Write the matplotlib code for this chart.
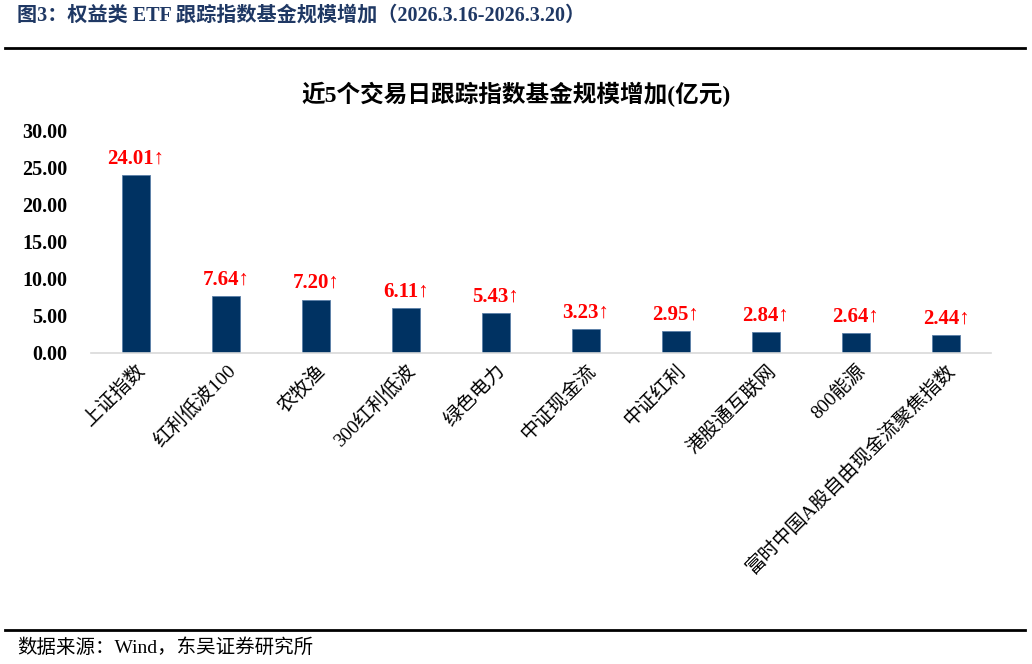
import numpy as np
import matplotlib
matplotlib.use('Agg')
import matplotlib.pyplot as plt

plt.rcParams['font.family'] = ['Liberation Serif', 'Noto Sans CJK SC']

# dados
categorias = ['上证指数', '红利低波100', '农牧渔', '300红利低波', '绿色电力',
              '中证现金流', '中证红利', '港股通互联网', '800能源',
              '富时中国A股自由现金流聚焦指数']
valores = [24.01, 7.64, 7.20, 6.11, 5.43, 3.23, 2.95, 2.84, 2.64, 2.44]
yticks = [0, 5, 10, 15, 20, 25, 30]

titulo = '图3：权益类 ETF 跟踪指数基金规模增加（2026.3.16-2026.3.20）'
titulo_graf = '近5个交易日跟踪指数基金规模增加(亿元)'
fonte = '数据来源：Wind，东吴证券研究所'

fig = plt.figure(figsize=(10.32, 6.64), dpi=100)
ax = fig.add_axes([91/1032, 1-353/664, 900/1032, 222/664*31/30])

x = np.arange(len(categorias))
ax.bar(x, valores, width=0.31, color='#003262', edgecolor='#5b7fa8', linewidth=0.6, zorder=2)

for xi, v in zip(x, valores):
	ax.text(xi, v + 0.9, '%.2f↑' % v, ha='center', va='bottom', color='#ff0000',
			fontsize=15, fontweight='bold')

ax.set_xlim(-0.5, len(categorias) - 0.5)
ax.set_ylim(0, 31)
ax.set_yticks(yticks)
ax.set_yticklabels(['%.2f' % t for t in yticks], fontsize=14.5, fontweight='bold')
ax.tick_params(axis='y', length=0, pad=17)
ax.tick_params(axis='x', length=0, pad=6)
ax.set_xticks(x)
ax.set_xticklabels(categorias, rotation=45, ha='right', va='top', rotation_mode='anchor',
				   fontsize=14)

for s in ['top', 'right', 'left']:
	ax.spines[s].set_visible(False)
ax.spines['bottom'].set_color('#d9d9d9')
ax.spines['bottom'].set_linewidth(1.2)

# títulos e linhas
fig.text(17/1032, 1-16/664, titulo, ha='left', va='center', fontsize=14.5,
		 fontweight='bold', color='#1f3864')
fig.add_artist(plt.Line2D([5/1032, 1025/1032], [1-48/664, 1-48/664], color='black', lw=2))
fig.text(516/1032, 1-94/664, titulo_graf, ha='center', va='center', fontsize=17,
		 fontweight='bold')
fig.add_artist(plt.Line2D([5/1032, 1025/1032], [1-630/664, 1-630/664], color='black', lw=2))
fig.text(17/1032, 1-648/664, fonte, ha='left', va='center', fontsize=14)

plt.savefig('out.png', dpi=100)
